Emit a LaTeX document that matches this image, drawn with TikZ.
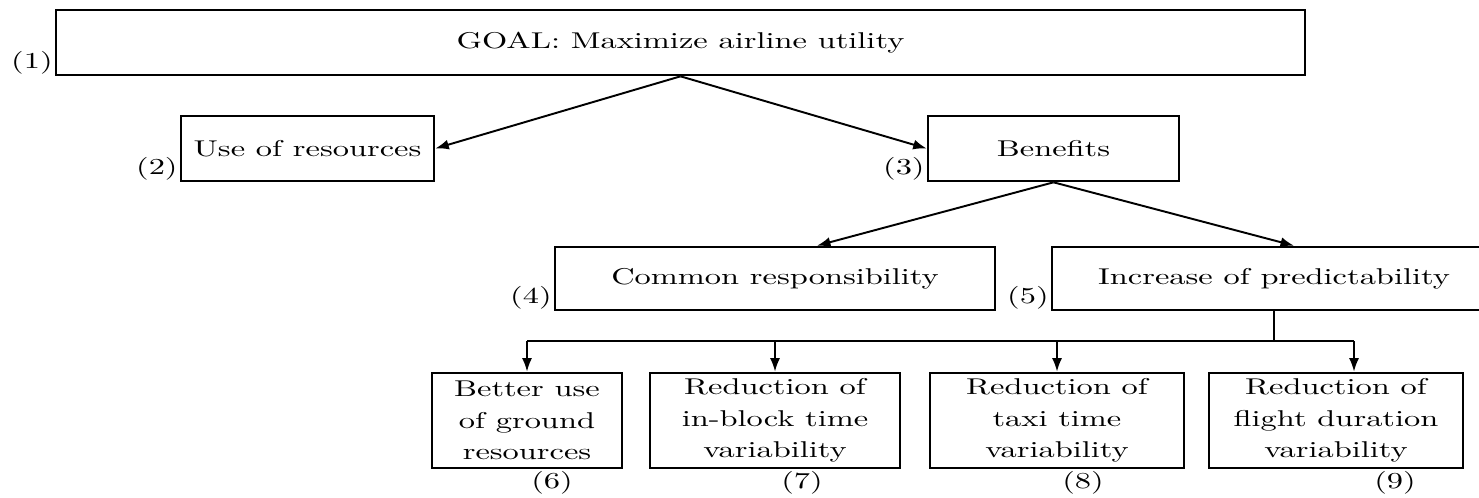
\documentclass[tikz,border=0pt]{standalone}
\usepackage{fontspec}
\setmainfont{lmroman10-regular}[Extension=.otf, BoldFont=lmroman10-bold, FakeStretch=1.42]
\usetikzlibrary{arrows.meta}

\begin{document}
\begin{tikzpicture}[x=0.02cm, y=-0.02cm,
  font=\fontsize{13}{18}\selectfont]

  % Define styles
  \tikzset{
    box/.style={draw=black, line width=1.5pt, inner sep=0pt, align=center},
    topbox/.style={box, minimum height=1.3cm},
    midbox/.style={box, minimum height=1.26cm},
    leafbox/.style={box, minimum height=1.9cm},
    arrow/.style={-{Latex[length=2.7mm,width=2mm]}, line width=1.1pt},
    link/.style={line width=1.1pt},
    num/.style={inner sep=1pt}
  }

  \useasboundingbox (0,0) rectangle (1479,497);

  %% Goal
  \node[topbox, minimum width=24.98cm] (goal) at (680.5,42.5) {GOAL: Maximize airline utility};
  \node[num, anchor=south east] (n1) at (goal.south west) {(1)};

  %% Second level
  \node[topbox, minimum width=5.06cm] (resources) at (307.5,148.5) {Use of resources};
  \node[num, anchor=south east] (n2) at (resources.south west) {(2)};

  \node[topbox, minimum width=5.02cm] (benefits) at (1053.5,148.5) {Benefits};
  \node[num, anchor=south east] (n3) at (benefits.south west) {(3)};

  \draw[arrow] (goal.south) -- (resources.east);
  \draw[arrow] (goal.south) -- (benefits.west);

  %% Third level
  \node[midbox, minimum width=8.8cm] (common) at (775,278.5) {Common responsibility};
  \node[num, anchor=south east] (n4) at (common.south west) {(4)};

  \node[midbox, minimum width=8.88cm] (predict) at (1274,278.5) {Increase of predictability};
  \node[num, anchor=south east] (n5) at (predict.south west) {(5)};

  \draw[arrow] (benefits.south) -- ([xshift=0.84cm]common.north);
  \draw[arrow] (benefits.south) -- ([xshift=0.4cm]predict.north);

  %% Bottom level
  \node[leafbox, minimum width=3.8cm] (ground) at (527,420.5) {Better use\\of ground\\resources};
  \node[leafbox, minimum width=5cm] (inblock) at (775,420.5) {Reduction of\\in-block time\\variability};
  \node[leafbox, minimum width=5.08cm] (taxi) at (1057,420.5) {Reduction of\\taxi time\\variability};
  \node[leafbox, minimum width=5.08cm] (flight) at (1336,420.5) {Reduction of\\flight duration\\variability};

  \node[num, anchor=north] (n6) at ([xshift=0.5cm]ground.south) {(6)};
  \node[num, anchor=north] (n7) at ([xshift=0.54cm]inblock.south) {(7)};
  \node[num, anchor=north] (n8) at ([xshift=0.52cm]taxi.south) {(8)};
  \node[num, anchor=north] (n9) at ([xshift=1.18cm]flight.south) {(9)};

  % Distribution line
  \coordinate (bus) at (1274,341);
  \coordinate (fl) at ([xshift=0.36cm]flight.north);
  \draw[link] (predict.south) -- (bus);
  \draw[link] (ground.north |- bus) -- (fl |- bus);
  \foreach \n in {ground, inblock, taxi}
    \draw[arrow] (\n.north |- bus) -- (\n.north);
  \draw[arrow] (fl |- bus) -- (fl);

\end{tikzpicture}
\end{document}
